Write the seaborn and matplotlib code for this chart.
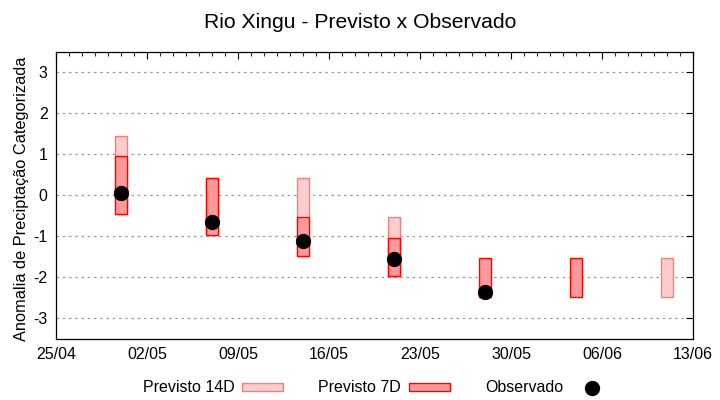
import matplotlib
matplotlib.use("Agg")
import matplotlib.pyplot as plt
import matplotlib.dates as mdates
from matplotlib.patches import Patch
from matplotlib.lines import Line2D
import seaborn as sns
import pandas as pd
import numpy as np

# ---- data ----
dates_7d = ["2023-04-30", "2023-05-07", "2023-05-14", "2023-05-21", "2023-05-28", "2023-06-04"]
low_7d = [-0.45, -0.97, -1.47, -1.97, -2.47, -2.47]
high_7d = [0.95, 0.42, -0.53, -1.03, -1.53, -1.53]

dates_14d = ["2023-04-30", "2023-05-07", "2023-05-14", "2023-05-21", "2023-06-11"]
low_14d = [-0.45, -0.97, -1.47, -1.97, -2.47]
high_14d = [1.45, 0.42, 0.42, -0.53, -1.53]

dates_obs = ["2023-04-30", "2023-05-07", "2023-05-14", "2023-05-21", "2023-05-28"]
obs = [0.05, -0.65, -1.12, -1.54, -2.36]

xtick_dates = ["2023-04-25", "2023-05-02", "2023-05-09", "2023-05-16",
               "2023-05-23", "2023-05-30", "2023-06-06", "2023-06-13"]
yticks = [-3, -2, -1, 0, 1, 2, 3]

title = "Rio Xingu - Previsto x Observado"
ylabel = "Anomalia de Precipta\u00e7\u00e3o Categorizada"
legend_labels = ["Previsto 14D", "Previsto 7D", "Observado"]

sns.set_style("white")
plt.rcParams["font.family"] = ["Liberation Sans", "DejaVu Sans"]
plt.rcParams["text.color"] = "black"
plt.rcParams["axes.labelcolor"] = "black"

fig = plt.figure(figsize=(7.2, 4.0), dpi=100)
ax = fig.add_axes([0.0778, 0.1525, 0.8847, 0.7185])

d14 = pd.to_datetime(dates_14d)
d7 = pd.to_datetime(dates_7d)
do = pd.to_datetime(dates_obs)

c14_face, c14_edge = "#ffcccc", "#f08080"
c7_face, c7_edge = "#ff9999", "#ff0000"

ax.bar(d14, np.array(high_14d) - np.array(low_14d), bottom=low_14d, width=0.9,
       color=c14_face, edgecolor=c14_edge, linewidth=1.0, zorder=3)
ax.bar(d7, np.array(high_7d) - np.array(low_7d), bottom=low_7d, width=0.9,
       color=c7_face, edgecolor=c7_edge, linewidth=1.0, zorder=4)

df_obs = pd.DataFrame({"data": do, "obs": obs})
sns.scatterplot(data=df_obs, x="data", y="obs", ax=ax, color="black", s=110,
                edgecolor="black", linewidth=0.5, zorder=5, legend=False)

xt = pd.to_datetime(xtick_dates)
ax.set_xlim(xt[0], xt[-1])
ax.set_ylim(-3.5, 3.5)
ax.set_xticks(xt)
ax.xaxis.set_major_formatter(mdates.DateFormatter("%d/%m"))
ax.xaxis.set_minor_locator(mdates.DayLocator())
ax.set_yticks(yticks)
ax.set_yticklabels([str(v) for v in yticks])
ax.set_xlabel("")
ax.set_ylabel(ylabel, fontsize=11.8, color="black")
ax.yaxis.set_label_coords(-0.042, 0.487)

ax.grid(axis="y", linestyle=(0, (2, 3)), color="#999999", linewidth=0.9, zorder=0)
ax.grid(axis="x", visible=False)
ax.tick_params(axis="both", which="major", direction="in", length=5, width=0.8,
               top=True, right=True, labelsize=11.5, colors="black", pad=6)
ax.tick_params(axis="x", which="minor", direction="in", length=3, width=0.8, top=True)
for s in ax.spines.values():
    s.set_color("black")
    s.set_linewidth(0.9)

fig.suptitle(title, fontsize=15.2, y=0.968, color="black")

handles = [Patch(facecolor=c14_face, edgecolor=c14_edge),
           Patch(facecolor=c7_face, edgecolor=c7_edge),
           Line2D([], [], marker="o", color="black", linestyle="none", markersize=10)]
fig.legend(handles, legend_labels, loc="center", bbox_to_anchor=(0.524, 0.03), ncol=3,
           frameon=False, markerfirst=False, fontsize=11.5, handlelength=2.56,
           handleheight=0.45, columnspacing=2.2, handletextpad=0.5, labelcolor="black")

fig.savefig("out.png", dpi=100)
